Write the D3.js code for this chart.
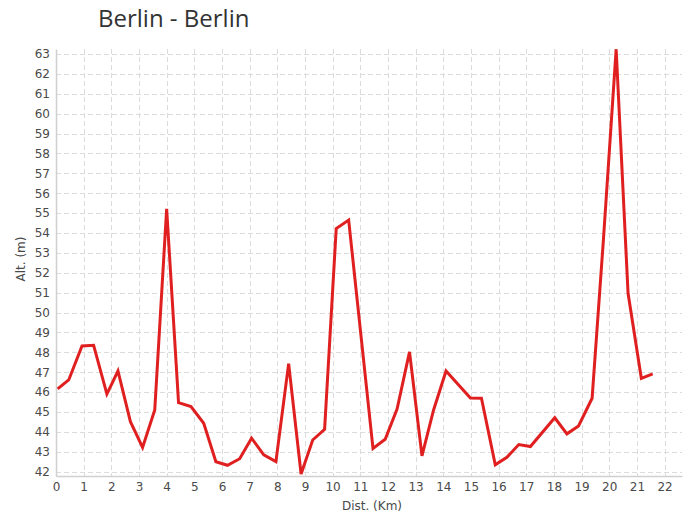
<!DOCTYPE html>
<html>
<head>
<meta charset="utf-8">
<script src="https://cdn.jsdelivr.net/npm/d3@7"></script>
<style>
    body { margin: 0; background: #fff; }
    svg { display: block; }
</style>
</head>
<body>
<div id="chart"></div>
<script>
// distance along the route (km) and altitude (m)
const dist = [0.06, 0.46, 0.94, 1.36, 1.84, 2.24, 2.69, 3.13, 3.57, 4.0, 4.43, 4.88, 5.34, 5.78, 6.2, 6.64,
    7.07, 7.51, 7.95, 8.41, 8.86, 9.28, 9.71, 10.13, 10.58, 11.46, 11.9, 12.33, 12.78, 13.23, 13.65, 14.1,
    14.98, 15.38, 15.88, 16.3, 16.73, 17.15, 18.03, 18.47, 18.89, 19.38, 19.78, 20.25, 20.68, 21.16, 21.57];
const alt = [46.16, 46.61, 48.32, 48.35, 45.9, 47.06, 44.51, 43.22, 45.1, 55.21, 45.47, 45.27, 44.43, 42.5, 42.32, 42.65,
    43.68, 42.84, 42.5, 47.43, 41.88, 43.59, 44.13, 54.22, 54.65, 43.16, 43.63, 45.14, 48.02, 42.79, 45.1, 47.06,
    45.7, 45.69, 42.34, 42.72, 43.36, 43.26, 44.71, 43.9, 44.3, 45.69, 53.48, 63.24, 50.97, 46.69, 46.91];

const xTicks = d3.range(0, 23);
const yTicks = d3.range(42, 64);

const title = "Berlin - Berlin";
const xTitle = "Dist. (Km)";
const yTitle = "Alt. (m)";

const width = 690;
const height = 522;
const margin = { top: 49, right: 8, bottom: 46, left: 56 };

const x = d3.scaleLinear()
    .domain([0, 22.63])
    .range([margin.left, width - margin.right]);

const y = d3.scaleLinear()
    .domain([41.78, 63.25])
    .range([height - margin.bottom, margin.top]);

const svg = d3.select("#chart")
    .append("svg")
    .attr("width", width)
    .attr("height", height);

const tickFont = "'DejaVu Sans', sans-serif";

// grid
svg.append("g")
    .selectAll("line")
    .data(yTicks)
    .enter()
    .append("line")
    .attr("x1", margin.left)
    .attr("x2", width - margin.right)
    .attr("y1", d => Math.round(y(d)) + 0.5)
    .attr("y2", d => Math.round(y(d)) + 0.5)
    .attr("stroke", "#dcdcdc")
    .attr("stroke-dasharray", "5,3");

svg.append("g")
    .selectAll("line")
    .data(xTicks.filter(d => d > 0))
    .enter()
    .append("line")
    .attr("x1", d => Math.round(x(d)) + 0.5)
    .attr("x2", d => Math.round(x(d)) + 0.5)
    .attr("y1", margin.top)
    .attr("y2", height - margin.bottom)
    .attr("stroke", "#dcdcdc")
    .attr("stroke-dasharray", "5,3");

// axes
const xAxis = svg.append("g")
    .attr("transform", `translate(0,${height - margin.bottom})`)
    .call(d3.axisBottom(x).tickValues(xTicks).tickSize(0).tickPadding(6).tickFormat(d3.format("d")));

const yAxis = svg.append("g")
    .attr("transform", `translate(${margin.left},0)`)
    .call(d3.axisLeft(y).tickValues(yTicks).tickSize(0).tickPadding(6).tickFormat(d3.format("d")));

[xAxis, yAxis].forEach(g => {
    g.select(".domain").attr("stroke", "#d0d0d0").attr("stroke-width", 1.5);
    g.selectAll("text")
        .attr("fill", "#4a4a4a")
        .style("font-family", tickFont)
        .style("font-size", "12px");
});

// altitude line
const points = dist.map((d, i) => [d, alt[i]]);

svg.append("path")
    .datum(points)
    .attr("fill", "none")
    .attr("stroke", "#e02020")
    .attr("stroke-width", 3)
    .attr("stroke-linejoin", "miter")
    .attr("d", d3.line().x(d => x(d[0])).y(d => y(d[1])));

// titles
svg.append("text")
    .attr("x", 98)
    .attr("y", 27)
    .attr("fill", "#333")
    .style("font-family", "'Open Sans', sans-serif")
    .style("font-size", "24px")
    .text(title);

svg.append("text")
    .attr("x", 372)
    .attr("y", 510)
    .attr("text-anchor", "middle")
    .attr("fill", "#4a4a4a")
    .style("font-family", tickFont)
    .style("font-size", "12px")
    .text(xTitle);

svg.append("text")
    .attr("transform", "translate(25,259) rotate(-90)")
    .attr("text-anchor", "middle")
    .attr("fill", "#4a4a4a")
    .style("font-family", tickFont)
    .style("font-size", "12px")
    .text(yTitle);
</script>
</body>
</html>
